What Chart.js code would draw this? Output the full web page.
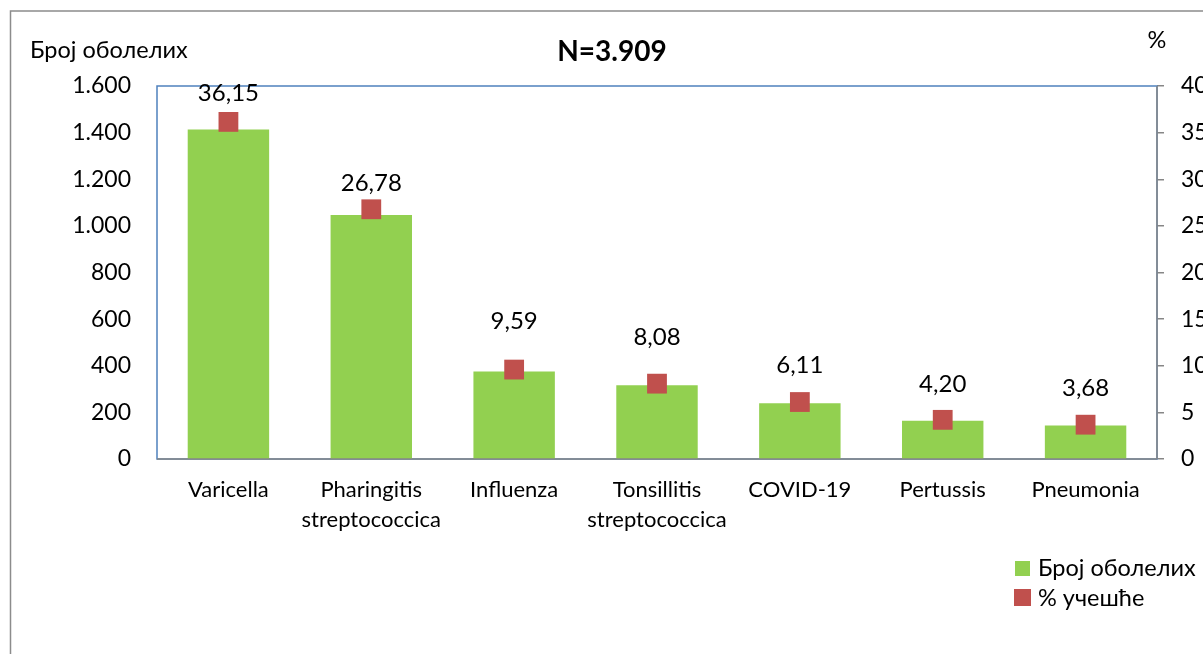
<!DOCTYPE html>
<html>
<head>
<meta charset="utf-8">
<script src="https://cdn.jsdelivr.net/npm/chart.js@4.4.0/dist/chart.umd.min.js"></script>
<style>
  html,body{margin:0;padding:0;background:#fff;}
  #wrap{position:relative;width:1203px;height:654px;}
</style>
</head>
<body>
<div id="wrap"><canvas id="c"></canvas></div>
<script>
// ── ПОДАЦИ ─────────────────────────────────────
const categories = [['Varicella'], ['Pharingitis','streptococcica'], ['Influenza'], ['Tonsillitis','streptococcica'], ['COVID-19'], ['Pertussis'], ['Pneumonia']];
const cases   = [1413, 1047, 375, 316, 239, 164, 144];
const percent = [36.15, 26.78, 9.59, 8.08, 6.11, 4.20, 3.68];
const leftTicks  = [0, 200, 400, 600, 800, 1000, 1200, 1400, 1600];
const rightTicks = [0, 5, 10, 15, 20, 25, 30, 35, 40];

const GREEN = '#92D050', RED = '#C0504D', BLUE = '#4F81BD', GRAY = '#868686';
const FONT = 'Lato, "Open Sans", sans-serif';
// ручно померене етикете (px изнад маркера), као у оригиналу
const labelLift = [29, 26, 48, 46, 37, 36, 36];

const fmtThousand = v => String(v).replace(/\B(?=(\d{3})+(?!\d))/g, '.');
const fmtPct = v => v.toFixed(2).replace('.', ',');

// ── ДОДАЦИ ─────────────────────────────────────
const extras = {
  id: 'extras',
  beforeDatasetsDraw(chart) {
    const {ctx, chartArea: a} = chart;
    ctx.save();
    // плави оквир површине графика
    ctx.strokeStyle = BLUE; ctx.lineWidth = 1.5;
    ctx.strokeRect(a.left, a.top, a.right - a.left, a.bottom - a.top);
    ctx.restore();
  },
  afterDatasetsDraw(chart) {
    const {ctx, chartArea: a} = chart;
    ctx.save();
    // осе доле и десно
    ctx.strokeStyle = GRAY; ctx.lineWidth = 1.5;
    ctx.beginPath();
    ctx.moveTo(a.left, a.bottom); ctx.lineTo(a.right, a.bottom);
    ctx.moveTo(a.right, a.top); ctx.lineTo(a.right, a.bottom);
    ctx.stroke();
    // вредности изнад маркера
    const meta = chart.getDatasetMeta(1);
    ctx.fillStyle = '#000'; ctx.font = '24px ' + FONT;
    ctx.textAlign = 'center'; ctx.textBaseline = 'middle';
    meta.data.forEach((pt, i) => ctx.fillText(fmtPct(percent[i]), pt.x, pt.y - labelLift[i]));
    ctx.restore();
  },
  afterDraw(chart) {
    const {ctx} = chart;
    ctx.save();
    // спољни оквир
    ctx.strokeStyle = '#8c8c8c'; ctx.lineWidth = 1.5;
    ctx.beginPath();
    ctx.moveTo(10.5, 654); ctx.lineTo(10.5, 11); ctx.lineTo(1203, 11);
    ctx.stroke();
    ctx.fillStyle = '#000'; ctx.textBaseline = 'middle';
    ctx.font = 'bold 28px ' + FONT; ctx.textAlign = 'center';
    ctx.fillText('N=3.909', 612, 52);
    ctx.font = '23.5px ' + FONT;
    ctx.textAlign = 'left';
    ctx.fillText('Број оболелих', 30, 50);
    ctx.textAlign = 'center';
    ctx.fillText('%', 1157, 40);
    // легенда
    ctx.textAlign = 'left';
    ctx.fillStyle = GREEN; ctx.fillRect(1015, 561, 15, 15);
    ctx.fillStyle = RED;   ctx.fillRect(1014, 589, 17, 17);
    ctx.fillStyle = '#000';
    ctx.fillText('Број оболелих', 1038, 568);
    ctx.fillText('% учешће', 1038, 598);
    ctx.restore();
  }
};

new Chart(document.getElementById('c'), {
  data: {
    labels: categories,
    datasets: [
      {type: 'bar', label: 'Број оболелих', data: cases, backgroundColor: GREEN,
       yAxisID: 'y', barPercentage: 0.57, categoryPercentage: 1, order: 1},
      {type: 'line', label: '% учешће', data: percent, yAxisID: 'y1', showLine: false,
       pointStyle: 'rect', pointRadius: 14, pointHoverRadius: 14,
       backgroundColor: RED, borderColor: RED, borderWidth: 0, order: 0}
    ]
  },
  options: {
    responsive: true, maintainAspectRatio: false, animation: false,
    layout: {padding: {top: 86, left: 0, right: 0, bottom: 0}},
    plugins: {legend: {display: false}, tooltip: {enabled: false}},
    scales: {
      x: {
        grid: {display: false, drawTicks: false}, border: {display: false},
        ticks: {color: '#000', font: {family: FONT, size: 22, lineHeight: 1.35}, padding: 16, maxRotation: 0, autoSkip: false},
        afterFit: s => { s.height = 195; }
      },
      y: {
        position: 'left', min: 0, max: 1600,
        afterBuildTicks: s => { s.ticks = leftTicks.map(v => ({value: v})); },
        grid: {display: false, drawTicks: false}, border: {display: false},
        ticks: {color: '#000', font: {family: FONT, size: 23}, padding: 26, callback: v => fmtThousand(v)},
        afterFit: s => { s.width = 157; }
      },
      y1: {
        position: 'right', min: 0, max: 40,
        afterBuildTicks: s => { s.ticks = rightTicks.map(v => ({value: v})); },
        grid: {display: true, drawOnChartArea: false, drawTicks: true, tickLength: 7, color: GRAY, lineWidth: 1.5},
        border: {display: false},
        ticks: {color: '#000', font: {family: FONT, size: 23}, padding: 17},
        afterFit: s => { s.width = 46; }
      }
    }
  },
  plugins: [extras]
});
</script>
</body>
</html>
